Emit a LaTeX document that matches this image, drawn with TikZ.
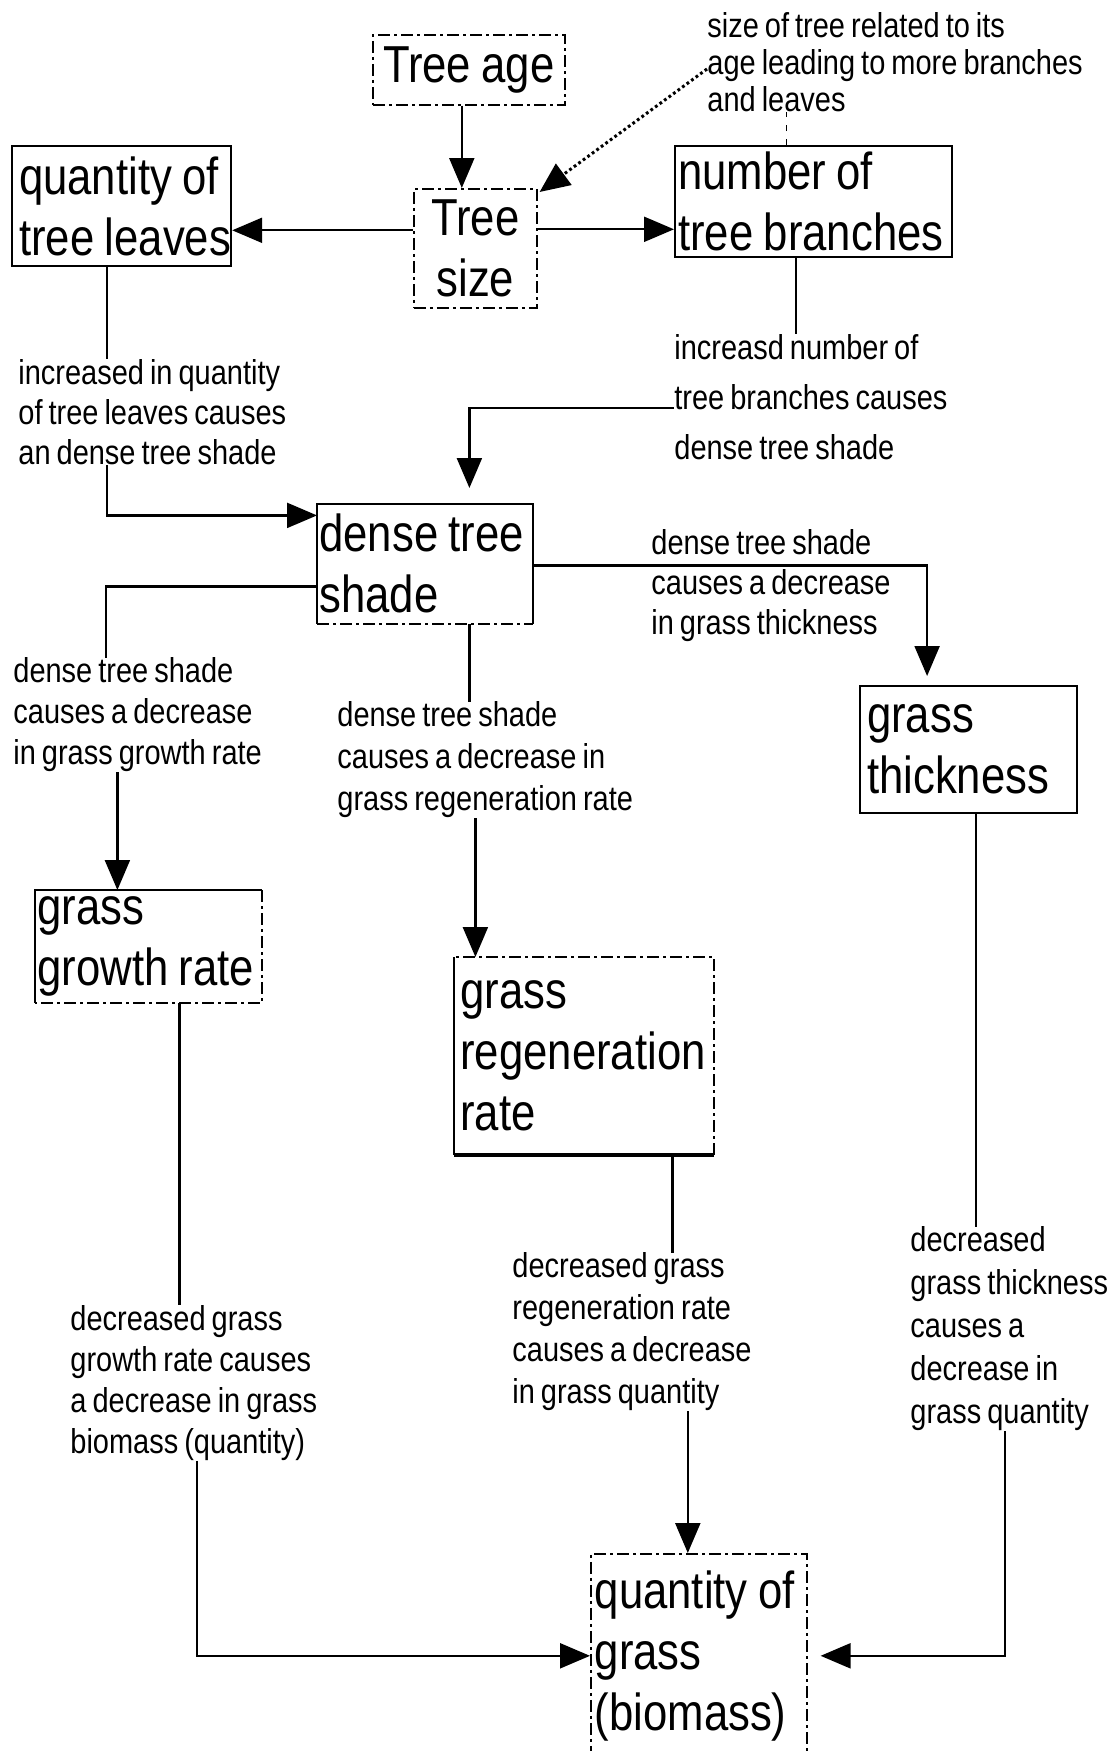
\documentclass[tikz,border=0pt]{standalone}
\usepackage{fontspec}
\newfontfamily\diafont{Liberation Sans}[FakeStretch=0.84,WordSpace=0.75]
\usetikzlibrary{arrows.meta}
\hyphenpenalty=10000
\exhyphenpenalty=10000
% narrow, unbreakable word gap for the large box captions
\newcommand\wsp{\nobreak\hspace{0.2em}\nobreak}

\begin{document}
\begin{tikzpicture}[x=0.5pt,y=-0.5pt,
  boxnode/.style={font=\diafont\fontsize{26}{30.5}\selectfont, anchor=north west,
                  inner ysep=0pt, align=left},
  solidedge/.style={line width=1.1pt},
  dashedge/.style={line width=0.8pt, dash pattern=on 6pt off 2pt on 1.5pt off 2pt},
  solidbox/.style={boxnode, draw, solidedge},
  dashbox/.style={boxnode, draw, dashedge},
  plainbox/.style={boxnode},
  lbl/.style={font=\diafont\fontsize{17.25}{#1}\selectfont, anchor=west,
              inner sep=0pt, align=left},
  lbl/.default=20,
  conn/.style={line width=1.1pt},
  arr/.style={conn, -{Triangle[length=15pt,width=12.5pt]}},
  dotarr/.style={line width=1.5pt, dash pattern=on 1.4pt off 1.4pt,
                 -{Triangle[length=15pt,width=13pt]}},
  tickline/.style={line width=0.5pt, dash pattern=on 3pt off 4pt}
]
\useasboundingbox (0,0) rectangle (1117,1751);
\fill[white] (0,0) rectangle (1117,1751);

% ---- boxes ----
\node[dashbox, inner xsep=0pt, align=center, text width=96pt, minimum height=35pt]
  (age) at (372,34) {\mbox{Tree\wsp age}};
\node[dashbox, inner xsep=0pt, align=center, text width=61.5pt, minimum height=59.5pt]
  (size) at (413,188) {Tree\\size};
\node[solidbox, inner xsep=3.5pt, text width=102.5pt, minimum height=60pt]
  (leaves) at (11,145) {\mbox{quantity\wsp of}\\\mbox{tree\wsp leaves}};
\node[solidbox, inner xsep=1.5pt, text width=135.5pt, minimum height=55.5pt]
  (branches) at (674,145) {\mbox{number\wsp of}\\\mbox{tree\wsp branches}};
\node[plainbox, inner xsep=1pt, text width=105.5pt, minimum height=59.5pt]
  (shade) at (317,504) {\mbox{dense\wsp tree}\\shade};
\node[solidbox, inner xsep=3.5pt, text width=101.5pt, minimum height=63.5pt]
  (thick) at (859,685) {grass\\thickness};
\node[plainbox, inner xsep=1pt, text width=111pt, minimum height=56pt]
  (growth) at (35,890) {grass\\\mbox{growth\wsp rate}};
\node[plainbox, inner xsep=3pt, text width=123.5pt, minimum height=98.5pt]
  (regen) at (454,957) {grass\\regeneration\\rate};
\node[dashbox, inner xsep=2pt, text width=104pt, minimum height=102pt]
  (bio) at (590,1553) {\mbox{quantity\wsp of}\\grass\\(biomass)};

% borders of the boxes with mixed edges
\draw[solidedge] (shade.south east) |- (shade.north west) -- (shade.south west);
\draw[dashedge] (shade.south west) -- (shade.south east);
\draw[solidedge] (growth.south west) |- (growth.north east);
\draw[dashedge] (growth.north east) |- (growth.south west);
\draw[solidedge] (regen.north west) -- (regen.south west);
\draw[line width=1.7pt] (regen.south west) -- (regen.south east);
\draw[dashedge] (regen.south east) |- (regen.north west);

% ---- labels ----
\node[lbl=18.5] (note) at (707,62)
  {size of tree related to its\\age leading to more branches\\and leaves};
\node[lbl=20] (lblA) at (18,412)
  {increased in quantity\\of tree leaves causes\\an dense tree shade};
\node[lbl=25] (lblB) at (674,397)
  {increasd number of\\tree branches causes\\dense tree shade};
\node[lbl=20] (lblC) at (651,586)
  {dense tree shade\\causes a decrease\\in grass thickness};
\node[lbl=20.5] (lblD) at (13,715)
  {dense tree shade\\causes a decrease\\in grass growth rate};
\node[lbl=21] (lblE) at (337,760)
  {dense tree shade\\causes a decrease in\\grass regeneration rate};
\node[lbl=20.5] (lblF) at (70,1383)
  {decreased grass\\growth rate causes\\a decrease in grass\\biomass (quantity)};
\node[lbl=21] (lblG) at (512,1332)
  {decreased grass\\regeneration rate\\causes a decrease\\in grass quantity};
\node[lbl=21.5] (lblH) at (910,1329)
  {decreased\\grass thickness\\causes a\\decrease in\\grass quantity};

% ---- connectors ----
\draw[arr] ([xshift=-3.5pt]age.south) -- ([xshift=-3.5pt]age.south |- size.north);
\draw[arr] ([yshift=9pt]size.west) -- ([yshift=9pt]size.west -| leaves.east);
\draw[arr] ([yshift=9.5pt]size.east) -- ([yshift=9.5pt]size.east -| branches.west);
\draw[dotarr] ([yshift=-3.5pt]note.west) -- ([xshift=1pt,yshift=-2pt]size.north east);
\draw[tickline] ([xshift=-13.75pt]branches.north) -- ([xshift=-13.75pt]branches.north |- note.south);

\draw[conn] ([xshift=-7.25pt]leaves.south) -- ([xshift=-7.25pt]leaves.south |- lblA.north);
\draw[arr] ([xshift=-7.25pt]leaves.south |- lblA.south) |- ([yshift=24.25pt]shade.west);

\draw[conn] ([xshift=-8.75pt]branches.south) -- ([xshift=-8.75pt]branches.south |- lblB.north);
\draw[arr] ([yshift=-5.5pt]lblB.west) -| ([xshift=22.25pt,yshift=8pt]shade.north);

\draw[arr] ([yshift=-0.75pt]shade.east) -| ([xshift=-20.75pt,yshift=4.5pt]thick.north);

\draw[conn] ([yshift=-11.25pt]shade.west) -| ([xshift=46.5pt]lblD.north west);
\draw[arr] ([xshift=-15.5pt]growth.north |- lblD.south) -- ([xshift=-15.5pt]growth.north);

\draw[conn] ([xshift=22.25pt]shade.south) -- ([xshift=22.25pt]shade.south |- lblE.north);
\draw[arr] ([xshift=-54.25pt]regen.north |- lblE.south) -- ([xshift=-54.25pt]regen.north);

\draw[conn] ([xshift=15.5pt]growth.south) -- ([xshift=15.5pt]growth.south |- lblF.north);
\draw[arr] ([xshift=63.5pt]lblF.south west) |- (bio.west);

\draw[conn] ([xshift=44.25pt]regen.south) -- ([xshift=44.25pt]regen.south |- lblG.north);
\draw[arr] ([xshift=-5.5pt]bio.north |- lblG.south) -- ([xshift=-5.5pt]bio.north);

\draw[conn] ([xshift=3.75pt]thick.south) -- ([xshift=3.75pt]thick.south |- lblH.north);
\draw[arr] ([xshift=47.5pt]lblH.south west) |- ([xshift=6.5pt]bio.east);
\end{tikzpicture}
\end{document}
